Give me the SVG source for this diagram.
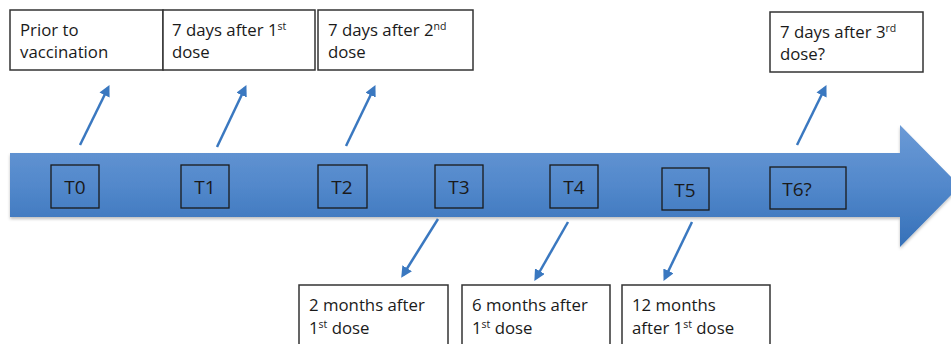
<svg xmlns="http://www.w3.org/2000/svg" width="951" height="344" viewBox="0 0 951 344">
<style>
.box{fill:#fff;stroke:#333;stroke-width:1.5}
.tbox{fill:none;stroke:#1a1a1a;stroke-width:1.3}
.t{font-family:"Open Sans","Liberation Sans",sans-serif;font-size:16.8px;fill:#1a1a1a}
.tl{font-family:"Open Sans","Liberation Sans",sans-serif;font-size:19px;fill:#1a1a1a;text-anchor:middle}
.s{font-size:10.5px}
.con{stroke:#3a78c0;stroke-width:2.5;fill:none;marker-end:url(#ah)}
</style>
<defs>
<linearGradient id="g" x1="0" y1="0" x2="0" y2="1">
<stop offset="0" stop-color="#6b9ad6"/>
<stop offset="0.5" stop-color="#5288cb"/>
<stop offset="1" stop-color="#3570b8"/>
</linearGradient>
<marker id="ah" viewBox="0 0 10 10" refX="7" refY="5" markerWidth="4.5" markerHeight="4.5" orient="auto">
<path d="M0,0 L10,5 L0,10 z" fill="#3a78c0"/>
</marker>
<filter id="sh" x="-5%" y="-10%" width="110%" height="130%">
<feDropShadow dx="0" dy="2" stdDeviation="1.5" flood-color="#000" flood-opacity="0.25"/>
</filter>
</defs>
<g id="timeline">
<path d="M10,153 L900,153 L900,125 L960,186 L900,247 L900,217 L10,217 z" fill="url(#g)" filter="url(#sh)"/>
</g>
<g id="connectors">
<line class="con" x1="80" y1="145" x2="108" y2="88"/>
<line class="con" x1="217" y1="147" x2="245" y2="88"/>
<line class="con" x1="346" y1="146" x2="374" y2="88"/>
<line class="con" x1="797" y1="145" x2="825" y2="88"/>
<line class="con" x1="438" y1="219" x2="403" y2="275"/>
<line class="con" x1="568" y1="222" x2="536" y2="278"/>
<line class="con" x1="692" y1="222" x2="665" y2="278"/>
</g>
<g id="n-prior">
<rect class="box" x="10" y="10" width="153" height="60"/>
<text class="t" x="20" y="36">Prior to</text>
<text class="t" x="20" y="58">vaccination</text>
</g>
<g id="n-after1">
<rect class="box" x="163" y="10" width="152" height="60"/>
<text class="t" x="172" y="36">7 days after 1<tspan class="s" dy="-6">st</tspan></text>
<text class="t" x="172" y="58">dose</text>
</g>
<g id="n-after2">
<rect class="box" x="318" y="10" width="155" height="60"/>
<text class="t" x="328" y="36">7 days after 2<tspan class="s" dy="-6">nd</tspan></text>
<text class="t" x="328" y="58">dose</text>
</g>
<g id="n-after3">
<rect class="box" x="770" y="12" width="153" height="60"/>
<text class="t" x="780" y="38">7 days after 3<tspan class="s" dy="-6">rd</tspan></text>
<text class="t" x="780" y="60">dose?</text>
</g>
<g id="n-T0"><rect class="tbox" x="51" y="165" width="48" height="43"/><text class="tl" x="75" y="194">T0</text></g>
<g id="n-T1"><rect class="tbox" x="181" y="165" width="48" height="43"/><text class="tl" x="205" y="194">T1</text></g>
<g id="n-T2"><rect class="tbox" x="318" y="165" width="49" height="43"/><text class="tl" x="342" y="194">T2</text></g>
<g id="n-T3"><rect class="tbox" x="435" y="165" width="48" height="43"/><text class="tl" x="459" y="194">T3</text></g>
<g id="n-T4"><rect class="tbox" x="550" y="165" width="48" height="43"/><text class="tl" x="574" y="194">T4</text></g>
<g id="n-T5"><rect class="tbox" x="662" y="168" width="47" height="42"/><text class="tl" x="685" y="197">T5</text></g>
<g id="n-T6"><rect class="tbox" x="770" y="167" width="76" height="42"/><text class="tl" x="797" y="196">T6?</text></g>
<g id="n-2m">
<rect class="box" x="299" y="285" width="149" height="65"/>
<text class="t" x="309" y="311">2 months after</text>
<text class="t" x="309" y="334">1<tspan class="s" dy="-6">st</tspan><tspan dy="6"> dose</tspan></text>
</g>
<g id="n-6m">
<rect class="box" x="462" y="285" width="148" height="65"/>
<text class="t" x="472" y="311">6 months after</text>
<text class="t" x="472" y="334">1<tspan class="s" dy="-6">st</tspan><tspan dy="6"> dose</tspan></text>
</g>
<g id="n-12m">
<rect class="box" x="622" y="285" width="148" height="65"/>
<text class="t" x="632" y="311">12 months</text>
<text class="t" x="632" y="334">after 1<tspan class="s" dy="-6">st</tspan><tspan dy="6"> dose</tspan></text>
</g>
</svg>
